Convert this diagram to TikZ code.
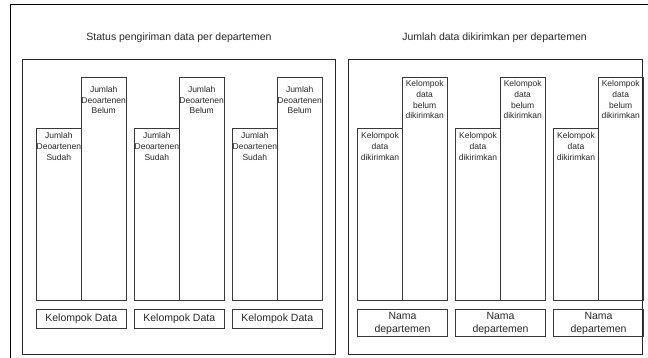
\documentclass[tikz,border=0pt]{standalone}
\usepackage{fontspec}
\setmainfont{Liberation Sans}
\begin{document}
\begin{tikzpicture}[x=1pt,y=-1pt,
  frame/.style={draw=black,line width=1pt},
  panel/.style={draw=black!85,line width=1pt,rectangle,inner sep=0pt,anchor=north west},
  bar/.style={draw=black!78,line width=1pt,rectangle,inner sep=0pt,anchor=north west,minimum width=#1},
  tag/.style={draw=black!78,line width=1pt,rectangle,inner sep=0pt,anchor=north west,minimum width=89.5pt,
    font=\fontsize{10.5}{12.6}\selectfont,align=center,text=black!85},
  lbl/.style={inner sep=0pt,align=center,font=\fontsize{8.5}{10.7}\selectfont,text=black!85},
  title/.style={inner sep=0pt,font=\fontsize{10.5}{12.6}\selectfont,text=black!85}]
\useasboundingbox (0,0) rectangle (648,358);
\clip (0,0) rectangle (648,358);
% surrounding frame (runs past the page on the right and bottom)
\draw[frame] (670,5) -- (10,5) -- (10,380);

% titles
\node[title] (t1) at (179,37.5) {Status pengiriman data per departemen};
\node[title] (t2) at (494.5,37.5) {Jumlah data dikirimkan per departemen};

% panels
\node[panel,minimum width=312.7pt,minimum height=295.5pt] (p1) at (22.3,58.7) {};
\node[panel,minimum width=294pt,minimum height=295.5pt] (p2) at (348.3,58.7) {};

% left panel: three groups of paired bars
\foreach \i/\x in {1/36,2/134,3/232}{
  \node[bar=44.7pt,minimum height=172.6pt] (ls\i) at (\x,127.7) {};
  \node[bar=45pt,minimum height=223.6pt] (lb\i) at ({\x+44.7},76.7) {};
  \node[lbl] (lst\i) at ([yshift=-18.6pt]ls\i.north) {Jumlah\\Deoartenen\\Sudah};
  \node[lbl] (lbt\i) at ([yshift=-23.4pt]lb\i.north) {Jumlah\\Deoartenen\\Belum};
  \node[tag,minimum height=18.7pt] (lk\i) at (\x,309) {Kelompok Data};
}

% right panel: three groups of paired bars
\foreach \i/\x in {1/357.3,2/455.3,3/553.3}{
  \node[bar=44.4pt,minimum height=172.6pt] (rs\i) at (\x,127.7) {};
  \node[bar=45pt,minimum height=223.6pt] (rb\i) at ({\x+44.4},76.7) {};
  \node[lbl] (rst\i) at ([yshift=-18.8pt]rs\i.north) {Kelompok\\data\\dikirimkan};
  \node[lbl] (rbt\i) at ([yshift=-23pt]rb\i.north) {Kelompok\\data\\belum\\dikirimkan};
  \node[tag,minimum height=27pt] (rk\i) at (\x,309.3) {Nama\\departemen};
}
\end{tikzpicture}
\end{document}
